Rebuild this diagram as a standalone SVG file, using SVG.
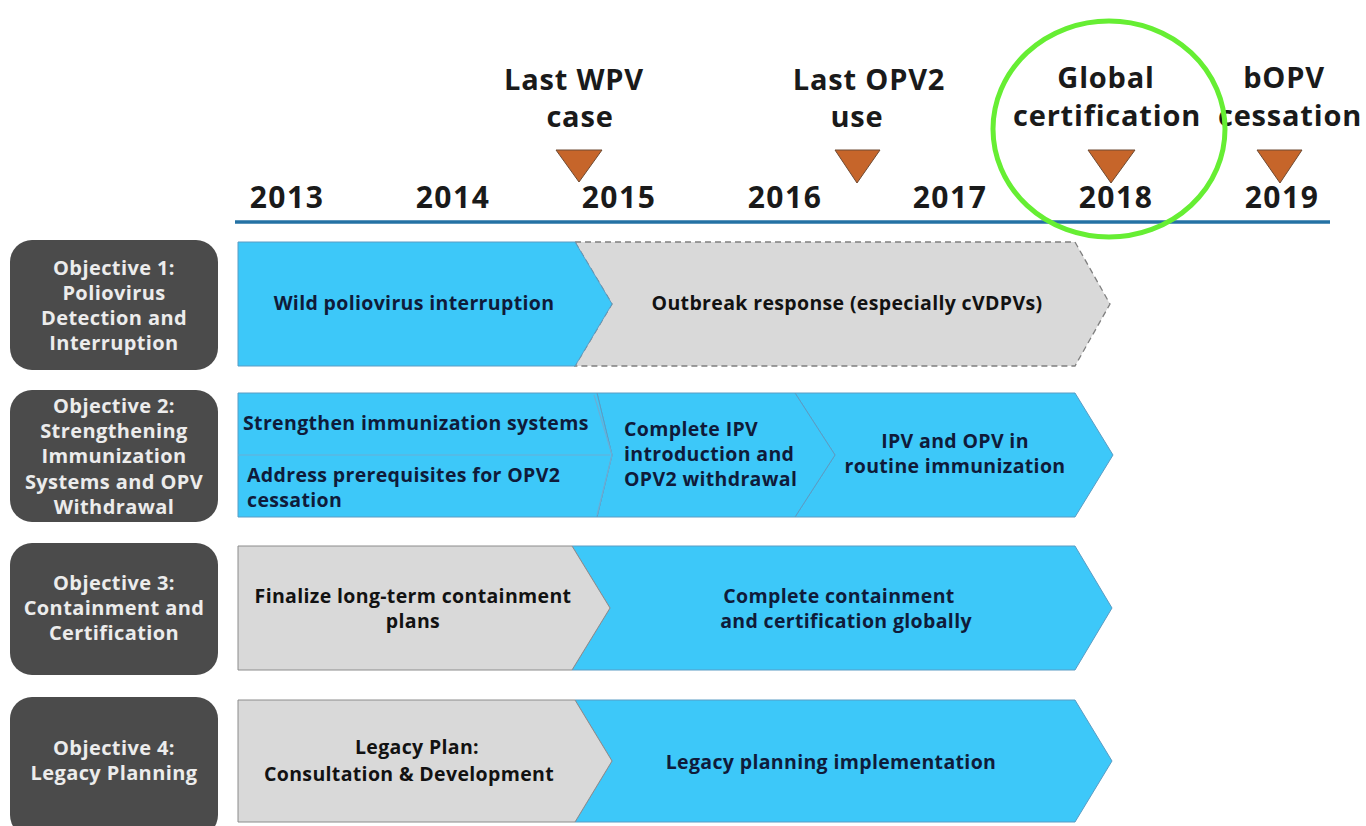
<svg xmlns="http://www.w3.org/2000/svg" width="1366" height="826" viewBox="0 0 1366 826">
  <style>
    .year { font-family: "Open Sans", "Liberation Sans", sans-serif; font-weight: 700; font-size: 30px; letter-spacing: 1.5px; fill: #1a1a1a; text-anchor: middle; }
    .mile { font-family: "Open Sans", "Liberation Sans", sans-serif; font-weight: 700; font-size: 29px; letter-spacing: 0.8px; fill: #1a1a1a; text-anchor: middle; }
    .obj { fill: #4b4b4b; }
    .objt { font-family: "Open Sans", "Liberation Sans", sans-serif; font-weight: 700; font-size: 20px; letter-spacing: 0.4px; fill: #ececec; text-anchor: middle; }
    .blue { fill: #3dc8f9; stroke: #5a9cc4; stroke-width: 1; }
    .gray { fill: #d9d9d9; stroke: #8c8c8c; stroke-width: 1; }
    .dash { fill: #d9d9d9; stroke: #7f7f7f; stroke-width: 1.3; stroke-dasharray: 6 4; }
    .sep { fill: none; stroke: #6aaed6; stroke-width: 1.2; }
    .bt { font-family: "Open Sans", "Liberation Sans", sans-serif; font-weight: 700; font-size: 19.5px; letter-spacing: 0.35px; fill: #0f1b3a; }
    .gt { font-family: "Open Sans", "Liberation Sans", sans-serif; font-weight: 700; font-size: 19.5px; letter-spacing: 0.35px; fill: #121212; }
    .mid { text-anchor: middle; }
    .tri { fill: #c6652a; stroke: #6e4a32; stroke-width: 1; }
  </style>

  <rect width="1366" height="826" fill="#ffffff"/>

  <!-- time axis -->
  <g id="timeline">
    <line x1="235" y1="222" x2="1330" y2="222" stroke="#2472a4" stroke-width="3.5"/>
    <text class="year" x="287" y="208">2013</text>
    <text class="year" x="453" y="208">2014</text>
    <text class="year" x="619" y="208">2015</text>
    <text class="year" x="785" y="208">2016</text>
    <text class="year" x="950" y="208">2017</text>
    <text class="year" x="1116" y="208">2018</text>
    <text class="year" x="1282" y="208">2019</text>
  </g>

  <!-- milestones -->
  <g id="milestone-wpv">
    <text class="mile" x="574" y="90">Last WPV</text>
    <text class="mile" x="580" y="127">case</text>
    <polygon class="tri" points="556,150 602,150 579,182"/>
  </g>
  <g id="milestone-opv2">
    <text class="mile" x="869" y="90">Last OPV2</text>
    <text class="mile" x="857" y="127">use</text>
    <polygon class="tri" points="835,150 880,150 857,183"/>
  </g>
  <g id="milestone-certification">
    <text class="mile" x="1106" y="88">Global</text>
    <text class="mile" x="1107" y="126">certification</text>
    <polygon class="tri" points="1088,150 1135,150 1111,183"/>
  </g>
  <g id="milestone-bopv">
    <text class="mile" x="1284" y="88">bOPV</text>
    <text class="mile" x="1290" y="126">cessation</text>
    <polygon class="tri" points="1257,150 1302,150 1280,183"/>
  </g>
  <g id="highlight">
    <ellipse cx="1109" cy="129" rx="116" ry="108" fill="none" stroke="#66ee33" stroke-width="5"/>
  </g>

  <!-- Objective 1 -->
  <g id="objective-1">
    <rect class="obj" x="10" y="240" width="208" height="130" rx="22"/>
    <text class="objt" x="114" y="275">Objective 1:</text>
    <text class="objt" x="114" y="300">Poliovirus</text>
    <text class="objt" x="114" y="325">Detection and</text>
    <text class="objt" x="114" y="350">Interruption</text>
  </g>
  <g id="outbreak-response">
    <polygon class="dash" points="575,242 1075,242 1110,304 1075,366 575,366 612,304"/>
    <text class="gt mid" x="847" y="310">Outbreak response (especially cVDPVs)</text>
  </g>
  <g id="wild-interruption">
    <polygon class="blue" points="238,242 575,242 612,304 575,366 238,366"/>
    <text class="bt mid" x="414" y="310">Wild poliovirus interruption</text>
  </g>

  <!-- Objective 2 -->
  <g id="objective-2">
    <rect class="obj" x="10" y="390" width="208" height="132" rx="22"/>
    <text class="objt" x="114" y="413">Objective 2:</text>
    <text class="objt" x="114" y="438">Strengthening</text>
    <text class="objt" x="114" y="463">Immunization</text>
    <text class="objt" x="114" y="489">Systems and OPV</text>
    <text class="objt" x="114" y="514">Withdrawal</text>
  </g>
  <g id="ipv-opv-routine">
    <polygon class="blue" points="795,393 1075,393 1113,455 1075,517 795,517 835,455"/>
    <text class="bt mid" x="955" y="448">IPV and OPV in</text>
    <text class="bt mid" x="955" y="473">routine immunization</text>
  </g>
  <g id="ipv-introduction">
    <polygon class="blue" points="597,393 795,393 835,455 795,517 597,517 612,455"/>
    <text class="bt" x="624" y="436">Complete IPV</text>
    <text class="bt" x="624" y="461">introduction and</text>
    <text class="bt" x="624" y="486">OPV2 withdrawal</text>
  </g>
  <g id="strengthen-systems">
    <polygon class="blue" points="238,393 597,393 612,455 597,517 238,517"/>
    <polyline class="sep" points="594,395 612,455 597,515"/>
    <text class="bt" x="243" y="430">Strengthen immunization systems</text>
    <text class="bt" x="247" y="482">Address prerequisites for OPV2</text>
    <text class="bt" x="247" y="507">cessation</text>
  </g>

  <!-- Objective 3 -->
  <g id="objective-3">
    <rect class="obj" x="10" y="543" width="208" height="132" rx="22"/>
    <text class="objt" x="114" y="590">Objective 3:</text>
    <text class="objt" x="114" y="615">Containment and</text>
    <text class="objt" x="114" y="640">Certification</text>
  </g>
  <g id="containment-global">
    <polygon class="blue" points="572,546 1075,546 1112,608 1075,670 572,670 610,608"/>
    <text class="bt mid" x="839" y="603">Complete containment</text>
    <text class="bt mid" x="846" y="628">and certification globally</text>
  </g>
  <g id="containment-plans">
    <polygon class="gray" points="238,546 572,546 610,608 572,670 238,670"/>
    <text class="gt mid" x="413" y="603">Finalize long-term containment</text>
    <text class="gt mid" x="413" y="628">plans</text>
  </g>

  <!-- Objective 4 -->
  <g id="objective-4">
    <rect class="obj" x="10" y="697" width="208" height="140" rx="22"/>
    <text class="objt" x="114" y="755">Objective 4:</text>
    <text class="objt" x="114" y="780">Legacy Planning</text>
  </g>
  <g id="legacy-implementation">
    <polygon class="blue" points="575,700 1075,700 1112,761 1075,822 575,822 612,761"/>
    <text class="bt mid" x="831" y="769">Legacy planning implementation</text>
  </g>
  <g id="legacy-development">
    <polygon class="gray" points="238,700 575,700 612,761 575,822 238,822"/>
    <text class="gt mid" x="417" y="754">Legacy Plan:</text>
    <text class="gt mid" x="409" y="781">Consultation &amp; Development</text>
  </g>

  <!-- dividers inside Objective 2 band -->
  <g id="connectors">
    <line x1="238" y1="455" x2="610" y2="455" stroke="#6aaed6" stroke-width="1.2"/>
  </g>
</svg>
